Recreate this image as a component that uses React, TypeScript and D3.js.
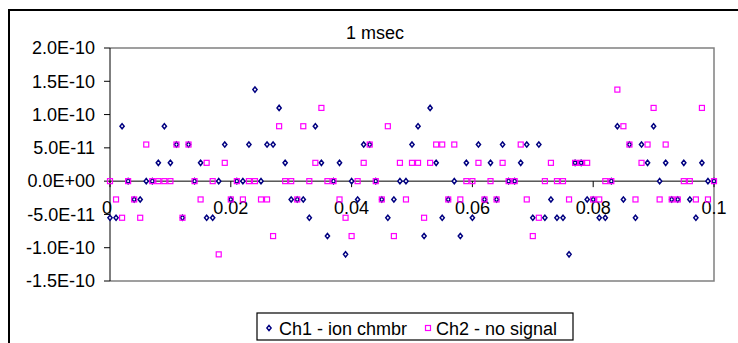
import React from "react";
import * as d3 from "d3";

// time axis, milliseconds (x value in seconds = ms / 1000)
const TIME_MS = [
  0, 1, 2, 3, 4, 5, 6, 7, 8, 9, 10, 11, 12, 13, 14, 15, 16, 17, 18, 19,
  20, 21, 22, 23, 24, 25, 26, 27, 28, 29, 30, 31, 32, 33, 34, 35, 36, 37, 38, 39,
  40, 41, 42, 43, 44, 45, 46, 47, 48, 49, 50, 51, 52, 53, 54, 55, 56, 57, 58, 59,
  60, 61, 62, 63, 64, 65, 66, 67, 68, 69, 70, 71, 72, 73, 74, 75, 76, 77, 78, 79,
  80, 81, 82, 83, 84, 85, 86, 87, 88, 89, 90, 91, 92, 93, 94, 95, 96, 97, 98, 99, 100,
];

// values in units of 1E-11
const CH1 = [
  -5.5, -5.5, 8.25, 0, -2.75, -2.75, 0, 0, 2.75, 8.25,
  2.75, 5.5, -5.5, 5.5, 0, 2.75, -5.5, -5.5, 0, 5.5,
  -2.75, 0, 0, 5.5, 13.75, 0, 5.5, 5.5, 11, 2.75,
  -2.75, -2.75, -2.75, -5.5, 8.25, 2.75, -8.25, 0, 2.75, -11,
  0, -2.75, 5.5, 5.5, 0, -2.75, -5.5, -2.75, 0, 0,
  5.5, 8.25, -8.25, 11, 2.75, -5.5, -2.75, 0, -8.25, 2.75,
  -5.5, 5.5, -2.75, 2.75, -2.75, 5.5, 0, 0, 2.75, 5.5,
  -5.5, 5.5, -5.5, -2.75, -5.5, -5.5, -11, 2.75, 2.75, -2.75,
  -2.75, -5.5, -5.5, 0, 8.25, -2.75, 5.5, -5.5, 5.5, 2.75,
  8.25, 0, 2.75, -2.75, -2.75, 2.75, -2.75, -5.5, 2.75, 0,
  0,
];

const CH2 = [
  0, -2.75, -5.5, 0, -2.75, -5.5, 5.5, 0, 0, 0,
  0, 5.5, -5.5, 5.5, 0, -2.75, 2.75, 0, -11, 2.75,
  -2.75, 0, -2.75, 0, 0, -2.75, -2.75, -8.25, 8.25, 0,
  0, -2.75, 8.25, 0, 2.75, 11, 0, 0, -2.75, -5.5,
  -8.25, 0, 2.75, 5.5, 0, -2.75, 8.25, -8.25, 2.75, -2.75,
  2.75, 2.75, -5.5, 2.75, 5.5, 5.5, -2.75, 5.5, -2.75, 0,
  0, 2.75, -2.75, 0, -2.75, 2.75, 0, 0, 5.5, -2.75,
  -8.25, -5.5, 0, 2.75, 0, 0, -2.75, 2.75, 2.75, 2.75,
  -2.75, -2.75, 0, 0, 13.75, 8.25, 5.5, -2.75, 2.75, 5.5,
  11, -2.75, 5.5, -2.75, -2.75, 0, 0, -2.75, 11, -2.75,
  0,
];

const Y_TICKS = [20, 15, 10, 5, 0, -5, -10, -15];
const Y_TICK_LABELS = ["2.0E-10", "1.5E-10", "1.0E-10", "5.0E-11", "0.0E+00", "-5.0E-11", "-1.0E-10", "-1.5E-10"];
const X_TICKS = [0, 0.02, 0.04, 0.06, 0.08, 0.1];
const X_TICK_LABELS = ["0", "0.02", "0.04", "0.06", "0.08", "0.1"];
const SERIES_NAMES = ["Ch1 - ion chmbr", "Ch2 - no signal"];
const TITLE = "1 msec";

const W = 738;
const H = 343;
const FONT = "'Liberation Sans', Arial, sans-serif";
const FS = 18;
const NAVY = "#000080";
const MAGENTA = "#FF00FF";

const diamond = "M0,-2.6 L2.1,0 L0,2.6 L-2.1,0 Z";

export default function App() {
  const x = d3.scaleLinear().domain([0, 0.1]).range([110, 714]);
  const y = d3.scaleLinear().domain([-15, 20]).range([281, 48]);
  const pL = x(0), pR = x(0.1), pT = y(20), pB = y(-15);

  return (
    <svg width={W} height={H} style={{ position: "absolute", left: 0, top: 0, background: "#fff" }} fontFamily={FONT}>
      <rect x={0} y={0} width={W} height={H} fill="#fff" />
      {/* chart border */}
      <rect x={9} y={10} width={W + 10} height={H + 10} fill="none" stroke="#000" strokeWidth={2} />
      {/* title */}
      <text x={375} y={39} textAnchor="middle" fontSize={FS} fill="#000">{TITLE}</text>
      {/* plot area border */}
      <path d={`M${pL},${pT} H${pR} V${pB} H${pL}`} fill="none" stroke="#808080" strokeWidth={1.5} />
      {/* y axis */}
      <line x1={pL} x2={pL} y1={pT} y2={pB} stroke="#000" strokeWidth={1} />
      {Y_TICKS.map((t, i) => (
        <g key={"y" + i}>
          <line x1={pL - 6} x2={pL} y1={y(t)} y2={y(t)} stroke="#000" strokeWidth={1} />
          <text x={95} y={y(t) + 6.3} textAnchor="end" fontSize={FS} fill="#000">{Y_TICK_LABELS[i]}</text>
        </g>
      ))}
      {/* x axis at zero */}
      <line x1={pL} x2={pR} y1={y(0)} y2={y(0)} stroke="#000" strokeWidth={1} />
      {X_TICKS.map((t, i) => (
        <g key={"x" + i}>
          <line x1={x(t)} x2={x(t)} y1={y(0)} y2={y(0) + 6} stroke="#000" strokeWidth={1} />
          <text x={x(t) - (i === 0 ? 3 : 0)} y={y(0) + 33} textAnchor="middle" fontSize={FS} fill="#000">{X_TICK_LABELS[i]}</text>
        </g>
      ))}
      {/* series 1 */}
      {CH1.map((v, i) => (
        <path key={"a" + i} d={diamond} transform={`translate(${x(TIME_MS[i] / 1000)},${y(v)})`}
          fill="#fff" stroke={NAVY} strokeWidth={1.5} />
      ))}
      {/* series 2 */}
      {CH2.map((v, i) => (
        <rect key={"b" + i} x={x(TIME_MS[i] / 1000) - 2.5} y={y(v) - 2.5} width={5} height={5}
          fill="none" stroke={MAGENTA} strokeWidth={1.2} />
      ))}
      {/* legend */}
      <rect x={257} y={313} width={316} height={27} fill="#fff" stroke="#000" strokeWidth={1.2} />
      <path d={diamond} transform="translate(269,328)" fill="#fff" stroke={NAVY} strokeWidth={1.5} />
      <text x={279} y={335} fontSize={FS} fill="#000">{SERIES_NAMES[0]}</text>
      <rect x={425.5} y={325.5} width={5} height={5} fill="none" stroke={MAGENTA} strokeWidth={1.2} />
      <text x={436} y={335} fontSize={FS} fill="#000">{SERIES_NAMES[1]}</text>
    </svg>
  );
}
